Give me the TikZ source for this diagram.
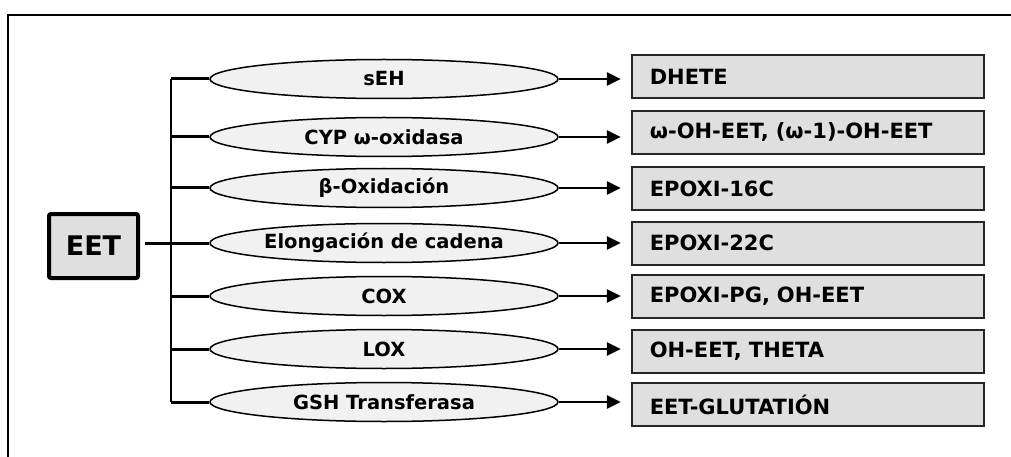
\documentclass[tikz,border=0pt]{standalone}
\usepackage{fontspec}
\setmainfont{DejaVu Sans}
\usetikzlibrary{arrows.meta,shapes.geometric,positioning,calc}
\definecolor{boxgray}{HTML}{DFDFDF}
\definecolor{ovalgray}{HTML}{F1F1F1}

\begin{document}
\begin{tikzpicture}[x=1pt,y=-1pt,>={Triangle[length=14pt,width=13pt]},
        enzyme/.style={ellipse,draw,fill=ovalgray,line width=1.5pt,minimum width=348pt,
            minimum height=39pt,inner sep=0pt,font=\bfseries\fontsize{19.5}{22}\selectfont},
        product/.style={rectangle,draw=black!85,fill=boxgray,line width=2pt,minimum width=352pt,
            minimum height=43pt,text width=316pt,inner xsep=18pt,inner ysep=0pt,align=left,
            font=\bfseries\fontsize{21}{24}\selectfont}]
        \useasboundingbox (0,0) rectangle (1011,457);
        % frame
        \draw[line width=2pt] (8,457) -- (8,15) -- (1011,15);

        % source
        \node[draw,fill=boxgray,line width=4pt,rounded corners=2pt,minimum width=89pt,
            minimum height=64pt,font=\bfseries\fontsize{27}{30}\selectfont] (eet) at (93.5,246) {EET};
        \coordinate (spine) at (171,0);

        % enzymes and products
        \foreach \n/\ey/\py/\enz/\prod in {1/79/76.5/sEH/DHETE,
                2/137/132.5/{CYP ω-oxidasa}/{ω-OH-EET, (ω-1)-OH-EET},
                3/188/188.5/β-Oxidación/EPOXI-16C,
                4/243/243/Elongación de cadena/EPOXI-22C,
                5/296/296.5/COX/{EPOXI-PG, OH-EET},
                6/349/351/LOX/{OH-EET, THETA},
                7/402/404.5/GSH Transferasa/EET-GLUTATIÓN}{
            \node[enzyme] (enz\n) at (384,\ey) {\enz};
            \node[product] (prod\n) at (807.8,\py) {\prod};
            \draw[line width=3pt] (enz\n.west -| spine) -- (enz\n.west);
            \draw[->,line width=2.8pt,shorten >=10pt] (enz\n.east) -- (enz\n.east -| prod\n.west);
        }
        \draw[line width=2pt] (enz1.west -| spine) -- (enz7.west -| spine);
        \draw[line width=3pt] ($(enz4.west -| eet.east)+(5pt,0)$) -- (enz4.west);
\end{tikzpicture}
\end{document}
